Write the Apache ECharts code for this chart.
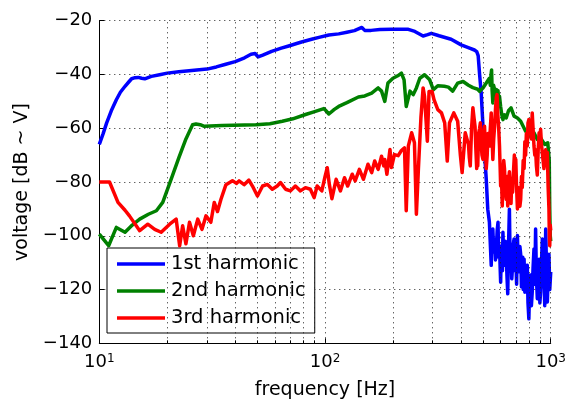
<!DOCTYPE html>
<html>
<head>
<meta charset="utf-8">
<script src="https://cdn.jsdelivr.net/npm/echarts@6/dist/echarts.min.js"></script>
<style>html,body{margin:0;padding:0;background:#fff}#c{width:569px;height:409px}</style>
</head>
<body>
<div id="c"></div>
<script>
// ---- data ----
const seriesNames = ['1st harmonic', '2nd harmonic', '3rd harmonic'];
const yTicks = [-140, -120, -100, -80, -60, -40, -20];
const xMajorTicks = [10, 100, 1000];
const xGridValues = [20,30,40,50,60,70,80,90,100,200,300,400,500,600,700,800,900,1000];

const blueFreq = [10,10.4,10.78,11.3,11.9,12.4,13,13.5,13.9,14.4,14.9,15.4,15.9,17,18.5,20,22.5,25,30,33,36,40,44,47,49,50.5,53,58,64,69,78,88,94,104,115,125,135,145.6,150,160,175,197,234,250,272,285,296,320,362,401,440,459,470,477,484,492,501,509,518,526,535,
  545,549,554,559,564,569,574,579,584,588,593,597,600,604,607,611,614,619,624,629,635,640,645,650,656,661,667,672,678,683,688,694,700,706,712,718,724,730,736,742,748,752,755,759,762,768,774,780,787,793,800,807,815,821,828,835,843,850,857,864,872,880,888,895,902,910,918,925,933,941,950,958,966,974,982,990,1000];
const blueDb = [-66,-62,-58,-53.5,-49.4,-46.6,-44.4,-42.8,-41.6,-41.2,-41.1,-41.4,-41.6,-40.7,-40.1,-39.5,-39,-38.6,-38,-37.2,-36.3,-35.2,-33.8,-32.5,-32.2,-33.5,-32.8,-31.4,-30.2,-29.4,-28,-26.8,-26.2,-25.3,-24.9,-24.3,-23.7,-22.5,-23.6,-23.6,-23.3,-23.2,-23.2,-24,-25.7,-25.2,-24.7,-25.6,-26.9,-29,-30.3,-30.9,-31.5,-33,-40,-46.9,-59.3,-69.1,-79,-90.1,-95,
  -111,-100,-97.5,-106,-101.2,-109,-105.5,-98,-95,-108,-103.7,-112,-117.3,-105,-104,-113,-98.7,-108,-111,-102,-106.9,-115,-121.6,-104,-90.1,-110,-104.9,-116,-111,-103,-101.2,-113,-106.9,-118,-99.9,-112,-113.4,-104,-106.9,-119,-114.6,-108,-120,-110,-108.7,-121,-119.7,-113,-111,-125,-130.9,-118,-114.6,-126,-121,-112,-104.9,-118,-97.5,-115,-123.4,-112,-108.7,-125,-121,-110,-101.2,-119,-114.6,-126,-97.5,-112,-124.6,-115,-106.9,-120,-113.4];

const greenFreq = [10,11,11.9,13,14,15.1,16.5,17.9,19.1,20.8,22.5,24.2,25.9,26.8,28,29.2,35,49.4,57,64.7,72,82,90,98.8,101,104,110,115,125,140.6,150,161,172,178,184,190,200,210,218,224,229,238,246,254,263,276,291,302,316,338,352,368,387,409,432,452,475,484,501,518,
  535,540,544,547,550,554,558,564,569,574,579,584,588,593,600,607,614,624,635,650,667,688,712,736,774,815,843,872,900,940,970,985,990,995,1000];
const greenDb = [-99.4,-103.7,-96.9,-98.7,-96,-93.8,-92,-90.7,-87.6,-79,-71,-64,-58.7,-58.4,-58.7,-59.3,-59,-58.7,-58.3,-57.4,-56.5,-54.9,-53.8,-52.7,-53.5,-54.7,-53,-51.9,-50.5,-48.4,-48,-46.9,-45,-46.2,-50,-43.2,-41.4,-40.5,-39.5,-42,-51.9,-46.2,-47.5,-45,-41.4,-40.1,-42,-45.7,-44.2,-44.4,-44.7,-46.2,-43.2,-42.6,-44,-44.9,-45.5,-46.3,-45,-43.2,
  -41.4,-44,-40,-38.3,-46,-50.6,-44,-45.6,-49,-45.6,-47,-46,-50,-48.1,-52,-55,-56.8,-55,-56.2,-53.5,-52.4,-55.5,-56.2,-57.4,-61.1,-62.9,-61.7,-64.2,-63.5,-66,-65.4,-72,-90,-100,-102];

const redFreq = [10,11.1,12.1,13,13.6,15.1,16.4,17.6,18.8,20.5,21.9,22.7,23.4,24.2,25.1,26.1,27.3,28.5,29.7,31.2,32.3,33.4,34.6,36.4,38.9,40.5,41.6,43.8,46,47.7,50.2,52.9,55.6,58.4,61.4,63.5,66.9,70.3,73.9,77.8,81.9,86.1,89.5,92.3,96.8,100,102.3,104.5,107.3,112,117,122,126,132,136,142,148,155,161,166,172,178,182,184,188,194,197,203,211,218,225,229,234,242,249,254,259,266,272,276,284,289,298,304,316,328,339,348,356,372,387,398,405,418,
  432,436,440,446,452,457,462,466,470,473,475,479,484,488,492,496,501,505,509,514,518,523,527,531,535,540,545,549,554,559,564,570,574,578,583,588,593,597,600,605,610,615,619,624,629,635,640,645,650,656,661,667,672,678,684,690,695,700,706,712,718,724,730,736,742,748,755,762,768,774,780,787,793,800,807,815,821,828,835,843,850,857,864,872,880,888,895,902,910,918,925,933,941,950,958,966,974,982,986,990,995,1000];
const redDb = [-80,-80,-87.6,-90.5,-92.6,-98.1,-95.7,-97.6,-98.7,-95.7,-93.8,-103.7,-96.3,-103,-95,-100,-93.8,-97.6,-92.6,-95,-87.6,-91,-86.4,-81,-79.5,-80.5,-79.6,-81,-79.3,-81.5,-85.2,-81.5,-80.9,-82.7,-81.5,-80.2,-82.7,-83.3,-81.5,-83.3,-82.1,-82.7,-85.8,-81.5,-83.3,-78,-74.7,-80.9,-86.2,-79,-83.3,-78.4,-81.5,-77.1,-79.6,-75.3,-79,-73.4,-76.5,-72.2,-75.3,-70.4,-74,-71.6,-77.1,-67.9,-74.6,-69.8,-70.2,-68.3,-67.3,-90.7,-66.6,-61.7,-65.4,-92,-76,-56.1,-45,-48.1,-64.8,-46.3,-46.3,-49.4,-53.1,-54.3,-58,-72.2,-58,-54.3,-57.4,-70.2,-76.5,-61.7,
  -66,-71,-74,-60,-52.4,-56,-59.3,-68,-75,-63,-74,-62,-60,-58,-66,-70,-71.6,-62,-59.3,-68,-75,-70,-62,-63,-66.6,-60,-54.3,-62,-71.6,-64,-59.3,-52,-48.5,-47.5,-55,-60,-66.6,-75,-81.5,-78,-88.9,-76,-72,-75,-83,-86.4,-78,-88.9,-80,-76.2,-81,-88,-79,-83.8,-76,-70,-75,-71.6,-82,-90,-82,-81.5,-89,-86.4,-78,-82,-72,-75,-65,-70,-62,-66.6,-58,-56.8,-62,-58,-64,-54.3,-60,-66.6,-70,-68,-74,-77.4,-68,-61.7,-64,-60.4,-66,-65.4,-72,-75,-70,-68,-74,-69,-82,-90,-100,-103.7,-96,-98];

// ---- chart ----
const FONT = 'DejaVu Sans';
const pair = (xs, ys) => xs.map((x, i) => [x, ys[i]]);
const colors = ['#0000ff', '#008000', '#ff0000'];

const chart = echarts.init(document.getElementById('c'), null, {renderer: 'canvas'});
const dotted = {type: [1, 4], color: '#222', width: 1};

const minorTicks = xGridValues.filter(v => xMajorTicks.indexOf(v) < 0);

const option = {
  animation: false,
  backgroundColor: '#fff',
  grid: {left: 99.3, right: 15.7, top: 20.7, bottom: 65.7, containLabel: false},
  xAxis: {
    type: 'log', logBase: 10, min: 10, max: 1000,
    name: 'frequency [Hz]', nameLocation: 'middle', nameGap: 37,
    nameTextStyle: {fontFamily: FONT, fontSize: 19, color: '#000'},
    axisLine: {show: true, onZero: false, lineStyle: {color: '#000', width: 1}},
    axisTick: {show: true, inside: true, length: 5, lineStyle: {color: '#000'}},
    splitLine: {show: false},
    axisLabel: {
      margin: 10, color: '#000',
      formatter: v => '{b|10}{s|' + Math.round(Math.log10(v)) + '}',
      rich: {
        b: {fontFamily: FONT, fontSize: 18, lineHeight: 18, padding: [6, 0, 0, 0], verticalAlign: 'bottom', color: '#000'},
        s: {fontFamily: FONT, fontSize: 12, lineHeight: 12, verticalAlign: 'top', color: '#000'}
      }
    }
  },
  yAxis: {
    type: 'value', min: yTicks[0], max: yTicks[yTicks.length - 1], interval: 20,
    name: 'voltage [dB ~ V]', nameLocation: 'middle', nameGap: 56, nameRotate: 90,
    nameTextStyle: {fontFamily: FONT, fontSize: 19, color: '#000'},
    axisLine: {show: true, lineStyle: {color: '#000', width: 1}},
    axisTick: {show: true, inside: true, length: 5, lineStyle: {color: '#000'}},
    splitLine: {show: true, lineStyle: dotted},
    axisLabel: {
      margin: 7, color: '#000', fontFamily: FONT, fontSize: 18,
      formatter: v => String(v).replace('-', '\u2212')
    }
  },
  legend: {
    show: true, orient: 'vertical', left: 107, top: 248,
    data: seriesNames,
    icon: 'rect', itemWidth: 48, itemHeight: 3.5, itemGap: 7,
    padding: [6, 9, 5, 10],
    borderColor: '#000', borderWidth: 1, backgroundColor: '#fff',
    textStyle: {fontFamily: FONT, fontSize: 19.5, lineHeight: 20, color: '#000', padding: [0, 0, 0, 1]},
    selectedMode: false
  },
  series: [
    {
      type: 'line', name: '_grid', data: [[10, -140]], symbol: 'none', silent: true, z: 0,
      lineStyle: {opacity: 0},
      markLine: {
        silent: true, symbol: ['none', 'none'], label: {show: false}, animation: false,
        lineStyle: dotted,
        data: xGridValues.map(v => ({xAxis: v}))
      }
    },
    {
      type: 'line', name: '_minor', data: [[10, -140]], symbol: 'none', silent: true, z: 1,
      lineStyle: {opacity: 0},
      markLine: {
        silent: true, symbol: ['none', 'none'], label: {show: false}, animation: false,
        lineStyle: {type: 'solid', color: '#000', width: 1},
        data: minorTicks.map(v => [{coord: [v, -140]}, {coord: [v, -138.9]}])
      }
    },
    {type: 'line', name: seriesNames[0], data: pair(blueFreq, blueDb), symbol: 'none', color: colors[0], lineStyle: {width: 3.5, color: colors[0], join: 'round'}, z: 3},
    {type: 'line', name: seriesNames[1], data: pair(greenFreq, greenDb), symbol: 'none', color: colors[1], lineStyle: {width: 3.5, color: colors[1], join: 'round'}, z: 4},
    {type: 'line', name: seriesNames[2], data: pair(redFreq, redDb), symbol: 'none', color: colors[2], lineStyle: {width: 3.5, color: colors[2], join: 'round'}, z: 5}
  ]
};
chart.setOption(option);
</script>
</body>
</html>
